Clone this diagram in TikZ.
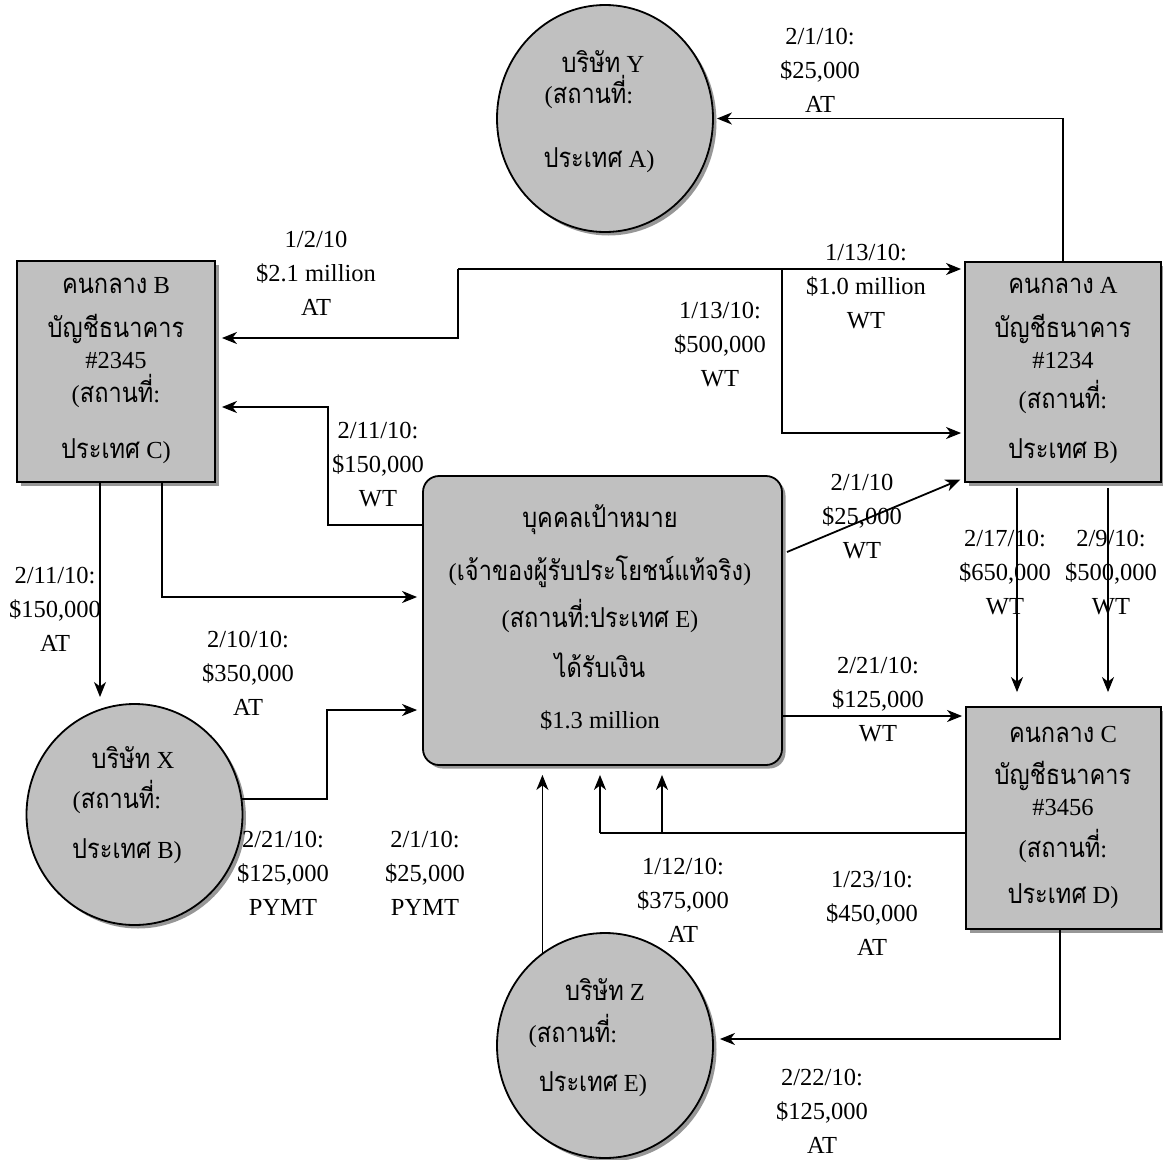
\documentclass[tikz,border=0pt]{standalone}
\usepackage{fontspec}
\setmainfont{Liberation Serif}
\newfontfamily\thaifont[Script=Thai,Scale=1.12,FakeStretch=0.86]{Loma}
\newcommand\thai[1]{{\thaifont #1}}
\usetikzlibrary{arrows.meta,shapes.geometric,shadows}
\definecolor{boxgray}{RGB}{192,192,192}
\definecolor{shadowgray}{RGB}{140,140,140}
\begin{document}
\begin{tikzpicture}[x=1pt,y=-1pt,
 shp/.style={draw=black, line width=1.8pt, fill=boxgray, inner sep=0pt,
   drop shadow={shadow xshift=3.5pt, shadow yshift=-3.5pt, fill=shadowgray, opacity=0.9}},
 sqbox/.style={shp, rectangle},
 circbox/.style={shp, ellipse},
 conn/.style={line width=1.8pt, -{Stealth[length=15pt,width=12pt,inset=4.5pt]}, shorten >=3pt},
 plainline/.style={line width=1.8pt},
 lbl/.style={align=center, inner sep=0pt, font=\fontsize{24.5}{34}\selectfont},
 txt/.style={anchor=base, inner sep=0pt, font=\fontsize{24.5}{28}\selectfont}
]
\useasboundingbox (0,0) rectangle (1163,1160);

% shapes
\node[circbox, minimum width=216pt, minimum height=227pt] (Y) at (605,118.5) {};
\node[sqbox, minimum width=198pt, minimum height=221pt] (B) at (116,371.5) {};
\node[sqbox, minimum width=196pt, minimum height=220pt] (A) at (1063,372) {};
\node[sqbox, minimum width=195pt, minimum height=222pt] (C) at (1063.5,818) {};
\node[sqbox, rounded corners=16pt, minimum width=359pt, minimum height=289pt] (E) at (602.5,620.5) {};
\node[circbox, minimum width=216pt, minimum height=221pt] (X) at (134.5,814.5) {};
\node[circbox, minimum width=216pt, minimum height=225pt] (Z) at (605,1045.5) {};

% texts in shapes
\node[txt] (Y1) at (603,72) {\thai{บริษัท} Y};
\node[txt] (Y2) at (589,103) {(\thai{สถานที่}:};
\node[txt] (Y3) at (599,167) {\thai{ประเทศ} A)};

\node[txt] (B1) at (116,293) {\thai{คนกลาง} B};
\node[txt] (B2) at (116,337) {\thai{บัญชีธนาคาร}};
\node[txt] (B3) at (116,368) {\#2345};
\node[txt] (B4) at (116,402) {(\thai{สถานที่}:};
\node[txt] (B5) at (116,458) {\thai{ประเทศ} C)};

\node[txt] (A1) at (1063,293) {\thai{คนกลาง} A};
\node[txt] (A2) at (1063,337) {\thai{บัญชีธนาคาร}};
\node[txt] (A3) at (1063,368) {\#1234};
\node[txt] (A4) at (1063,408) {(\thai{สถานที่}:};
\node[txt] (A5) at (1063,458) {\thai{ประเทศ} B)};

\node[txt] (C1) at (1063,742) {\thai{คนกลาง} C};
\node[txt] (C2) at (1063,784) {\thai{บัญชีธนาคาร}};
\node[txt] (C3) at (1063,815) {\#3456};
\node[txt] (C4) at (1063,857) {(\thai{สถานที่}:};
\node[txt] (C5) at (1063,903) {\thai{ประเทศ} D)};

\node[txt] (E1) at (600,527) {\thai{บุคคลเป้าหมาย}};
\node[txt] (E2) at (600,580) {(\thai{เจ้าของผู้รับประโยชน์แท้จริง})};
\node[txt] (E3) at (600,627) {(\thai{สถานที่}:\thai{ประเทศ} E)};
\node[txt] (E4) at (600,677) {\thai{ได้รับเงิน}};
\node[txt] (E5) at (600,728) {\$1.3 million};

\node[txt] (X1) at (133,768) {\thai{บริษัท} X};
\node[txt] (X2) at (117,808) {(\thai{สถานที่}:};
\node[txt] (X3) at (127,858) {\thai{ประเทศ} B)};

\node[txt] (Z1) at (605,1000) {\thai{บริษัท} Z};
\node[txt] (Z2) at (573,1042) {(\thai{สถานที่}:};
\node[txt] (Z3) at (593,1091) {\thai{ประเทศ} E)};

% labels
\node[lbl] (L1) at (820,70) {2/1/10:\\\$25,000\\AT};
\node[lbl] (L2) at (316,273) {1/2/10\\\$2.1 million\\AT};
\node[lbl] (L3) at (866,287) {1/13/10:\\\$1.0 million\\WT};
\node[lbl] (L4) at (720,345) {1/13/10:\\\$500,000\\WT};
\node[lbl] (L5) at (378,465) {2/11/10:\\\$150,000\\WT};
\node[lbl] (L6) at (55,609) {2/11/10:\\\$150,000\\AT};
\node[lbl] (L7) at (248,673) {2/10/10:\\\$350,000\\AT};
\node[lbl] (L8) at (283,873) {2/21/10:\\\$125,000\\PYMT};
\node[lbl] (L9) at (425,873) {2/1/10:\\\$25,000\\PYMT};
\node[lbl] (L10) at (862,517) {2/1/10\\\$25,000\\WT};
\node[lbl] (L11) at (1005,573) {2/17/10:\\\$650,000\\WT};
\node[lbl] (L12) at (1111,573) {2/9/10:\\\$500,000\\WT};
\node[lbl] (L13) at (878,700) {2/21/10:\\\$125,000\\WT};
\node[lbl] (L14) at (683,900) {1/12/10:\\\$375,000\\AT};
\node[lbl] (L15) at (872,913) {1/23/10:\\\$450,000\\AT};
\node[lbl] (L16) at (822,1111) {2/22/10:\\\$125,000\\AT};

% connectors
\draw[conn] (A.north) |- (Y.east);

\coordinate (j1) at (458,269);
\coordinate (j2) at (782,269);
\coordinate (j3) at (782,433);
\coordinate (j4) at (458,338);
\draw[conn] (j1) -- (A.west |- j1);
\draw[conn,shorten >=6pt] (j1) -- (j4) -- (B.east |- j4);
\draw[conn] (j2) -- (j3) -- (A.west |- j3);

\coordinate (k1) at (328,525);
\coordinate (k2) at (328,407);
\draw[conn,shorten >=6pt] (E.west |- k1) -- (k1) -- (k2) -- (B.east |- k2);

\coordinate (b1) at (100,697);
\draw[conn,shorten >=0pt] (B.south -| b1) -- (b1);
\coordinate (b2) at (162,597);
\draw[conn,shorten >=5pt] (B.south -| b2) -- (b2) -- (E.west |- b2);

\coordinate (x2) at (327,710);
\draw[conn,shorten >=5pt] (X.8) -- (X.8 -| x2) -- (x2) -- (E.west |- x2);

\coordinate (e1) at (787,552);
\coordinate (a4) at (0,478);
\draw[conn,shorten >=4pt] (e1) -- (A.west |- a4);

\coordinate (c1) at (1017,0);
\coordinate (c2) at (1108,0);
\draw[conn,shorten <=5pt,shorten >=14pt] (A.south -| c1) -- (C.north -| c1);
\draw[conn,shorten <=5pt,shorten >=14pt] (A.south -| c2) -- (C.north -| c2);

\coordinate (m1) at (0,716);
\draw[conn] (E.east |- m1) -- (C.west |- m1);

\coordinate (n1) at (600,833);
\coordinate (n2) at (662,833);
\draw[plainline] (C.west |- n1) -- (n1);
\draw[conn,shorten >=9pt] (n1) -- (E.south -| n1);
\draw[conn,shorten >=9pt] (n2) -- (E.south -| n2);

\draw[conn,shorten >=9pt] (Z.124) -- (E.south -| Z.124);

\coordinate (z1) at (1060,1039);
\draw[conn,shorten >=6pt] (C.south -| z1) -- (z1) -- (Z.east |- z1);
\end{tikzpicture}
\end{document}
